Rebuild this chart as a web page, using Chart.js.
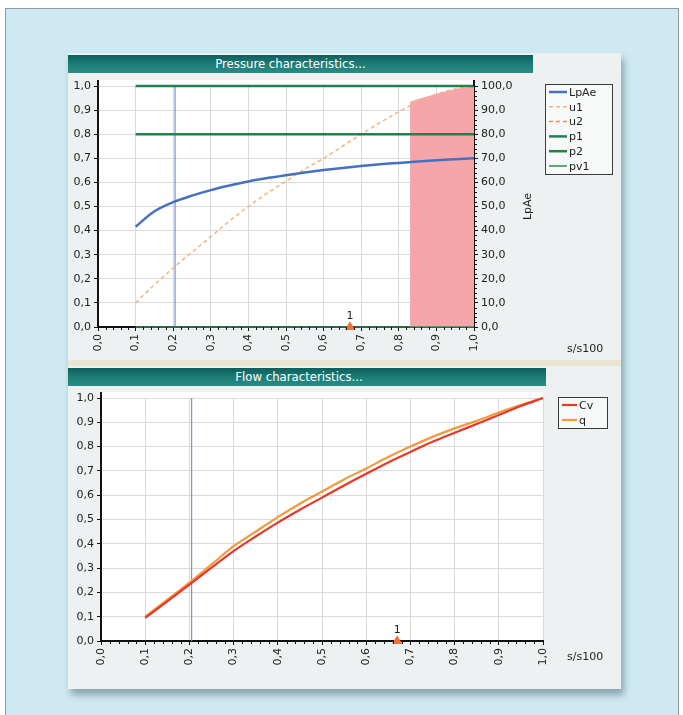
<!DOCTYPE html>
<html>
<head>
<meta charset="utf-8">
<title>Valve characteristics</title>
<script src="https://cdn.jsdelivr.net/npm/chart.js@4.4.1/dist/chart.umd.min.js"></script>
<style>
  html, body { margin: 0; padding: 0; }
  body { width: 683px; height: 715px; position: relative; overflow: hidden; background: #ffffff; font-family: "DejaVu Sans", sans-serif; }
  #frame { position: absolute; left: 5px; top: 8px; width: 674px; height: 720px; background: #cfe9f2; border: 1px solid #8c9ca2; box-sizing: border-box; }
  #panel { position: absolute; left: 68px; top: 53px; width: 553px; height: 636px; background: #eef1f1; box-shadow: 3px 6px 7px rgba(0,40,50,0.35); }
  .hdr { position: absolute; left: 68px; height: 18px; color: #ffffff; font: 13px "DejaVu Sans Condensed", "DejaVu Sans", sans-serif; line-height: 18px; text-align: center; background: linear-gradient(#0b5f5c, #1f7e78 55%, #2a8b84); box-sizing: border-box; }
  #hdrTop { top: 55px; width: 465px; padding-right: 20px; }
  #hdrBottom { top: 368px; width: 478px; padding-right: 16px; }
  #sep { position: absolute; left: 68px; top: 360px; width: 553px; height: 6px; background: #ebe5d3; }
  .cv { position: absolute; left: 68px; }
  #wrapTop { top: 73px; width: 551px; height: 287px; }
  #wrapBottom { top: 386px; width: 551px; height: 303px; }
</style>
</head>
<body>
<div id="frame"></div>
<div id="panel"></div>
<div id="sep"></div>
<div class="hdr" id="hdrTop">Pressure characteristics...</div>
<div class="hdr" id="hdrBottom">Flow characteristics...</div>
<div class="cv" id="wrapTop"><canvas id="pressure" width="551" height="287"></canvas></div>
<div class="cv" id="wrapBottom"><canvas id="flow" width="551" height="303"></canvas></div>
<script>
// relative travel s/s100
const travel = [0.10, 0.15, 0.20, 0.25, 0.30, 0.35, 0.40, 0.45, 0.50, 0.55,
                0.60, 0.65, 0.70, 0.75, 0.80, 0.85, 0.90, 0.95, 1.00];
// sound pressure level LpAe (right axis, dB)
const lpAe = [41.6, 48.0, 51.8, 54.5, 56.8, 58.7, 60.4, 61.8, 63.0, 64.1,
              65.1, 66.0, 66.8, 67.5, 68.1, 68.7, 69.2, 69.6, 70.0];
// pressure ratio u1
const u1 = [0.10, 0.175, 0.245, 0.31, 0.375, 0.44, 0.50, 0.555, 0.605, 0.655,
            0.70, 0.75, 0.80, 0.848, 0.893, 0.935, 0.966, 0.988, 1.00];
// u2 has no points in this operating case
const u2 = [];
// limit lines p1, p2, pv1
const limitTravel = [0.10, 1.00];
const p1 = [1.0, 1.0];
const p2 = [0.8, 0.8];
const pv1 = [0.0, 0.0];
// critical zone band
const zoneTravel = [0.83, 0.85, 0.90, 0.95, 1.00];
const zoneTop = [0.935, 0.945, 0.968, 0.988, 1.00];
// flow characteristics
const cv = [0.095, 0.163, 0.232, 0.302, 0.37, 0.43, 0.487, 0.54, 0.59, 0.64,
            0.688, 0.735, 0.778, 0.82, 0.857, 0.893, 0.93, 0.967, 1.00];
const q = [0.10, 0.17, 0.24, 0.315, 0.39, 0.45, 0.51, 0.565, 0.615, 0.665,
           0.71, 0.757, 0.80, 0.84, 0.875, 0.906, 0.94, 0.972, 1.00];
// operating point cursor and marker
const cursorTravel = 0.205;
const markerTravel = 0.67;
const markerLabel = "1";
// axis tick labels
const xTicks = [0.0, 0.1, 0.2, 0.3, 0.4, 0.5, 0.6, 0.7, 0.8, 0.9, 1.0];
const yTicks = [0.0, 0.1, 0.2, 0.3, 0.4, 0.5, 0.6, 0.7, 0.8, 0.9, 1.0];
const y1Ticks = [0, 10, 20, 30, 40, 50, 60, 70, 80, 90, 100];

const pts = (xs, ys) => xs.map((x, i) => ({ x: x, y: ys[i] }));
const comma = v => (Math.round(v * 10) / 10).toFixed(1).replace('.', ',');
const TICK_FONT = { family: "DejaVu Sans", size: 11 };
const TEXT_FONT = '11px "DejaVu Sans"';
const TICK_COLOR = '#222222';
const AXIS_COLOR = '#111111';
const GRID_COLOR = '#dadada';

// white plotting field, minor ticks, framed legend, marker label and axis captions
const decor = {
  id: 'decor',
  beforeDraw(chart) {
    const a = chart.chartArea, c = chart.ctx;
    c.save();
    c.fillStyle = '#ffffff';
    c.fillRect(a.left, a.top - 6, a.right - a.left, a.bottom - a.top + 6);
    c.restore();
  },
  afterDraw(chart, args, o) {
    const a = chart.chartArea, c = chart.ctx;
    c.save();
    c.strokeStyle = AXIS_COLOR; c.lineWidth = 2;
    c.beginPath(); c.moveTo(a.left, a.top - 6); c.lineTo(a.left, a.top); c.stroke();
    if (chart.scales.y1) { c.beginPath(); c.moveTo(a.right, a.top - 6); c.lineTo(a.right, a.top); c.stroke(); }
    // minor ticks
    c.lineWidth = 1;
    const xs = chart.scales.x;
    for (let k = 0; k <= 50; k++) {
      if (k % 5 === 0) continue;
      const px = Math.round(xs.getPixelForValue(k / 50)) + 0.5;
      c.beginPath(); c.moveTo(px, a.bottom); c.lineTo(px, a.bottom + 3); c.stroke();
    }
    if (chart.scales.y1) {
      const ys = chart.scales.y1;
      for (let k = 0; k <= 50; k++) {
        if (k % 5 === 0) continue;
        const py = Math.round(ys.getPixelForValue(k * 2)) + 0.5;
        c.beginPath(); c.moveTo(a.right, py); c.lineTo(a.right + 3, py); c.stroke();
      }
    }
    // marker label
    const mk = chart.data.datasets.find(d => d.isMarker);
    if (mk) {
      const px = xs.getPixelForValue(mk.data[0].x);
      const py = chart.scales.y.getPixelForValue(mk.data[0].y);
      c.fillStyle = '#222222';
      c.font = TEXT_FONT;
      c.textAlign = 'center'; c.textBaseline = 'bottom';
      c.fillText(mk.markerText, px, py - 5);
    }
    // axis captions
    c.fillStyle = '#222222';
    c.font = TEXT_FONT;
    c.textAlign = 'left'; c.textBaseline = 'middle';
    c.fillText('s/s100', o.capX, o.capY);
    if (o.rightTitle) {
      c.save();
      c.translate(o.rightTitle.x, (a.top + a.bottom) / 2);
      c.rotate(-Math.PI / 2);
      c.textAlign = 'center';
      c.fillText(o.rightTitle.text, 0, 0);
      c.restore();
    }
    // framed legend
    const items = chart.data.datasets.filter(d => d.inLegend);
    const L = o.legend;
    c.fillStyle = '#f7f8f8';
    c.fillRect(L.x, L.y, L.w, L.h);
    c.strokeStyle = '#3a3a3a'; c.lineWidth = 1;
    c.strokeRect(L.x + 0.5, L.y + 0.5, L.w - 1, L.h - 1);
    c.font = TEXT_FONT;
    items.forEach((d, i) => {
      const yy = L.y + L.pad + i * L.row;
      c.strokeStyle = d.borderColor;
      c.lineWidth = d.legendWidth || d.borderWidth;
      c.setLineDash(d.borderDash || []);
      c.beginPath(); c.moveTo(L.x + 4, yy); c.lineTo(L.x + 4 + L.line, yy); c.stroke();
      c.setLineDash([]);
      c.fillStyle = '#222222';
      c.textAlign = 'left'; c.textBaseline = 'middle';
      c.fillText(d.label, L.x + 6 + L.line, yy + 1);
    });
    c.restore();
  }
};

function xAxis(height) {
  return {
    type: 'linear', min: 0, max: 1,
    afterBuildTicks: s => { s.ticks = xTicks.map(v => ({ value: v })); },
    afterFit: s => { s.height = height; },
    ticks: { minRotation: 90, maxRotation: 90, autoSkip: false, callback: v => comma(v), font: TICK_FONT, color: TICK_COLOR, padding: 3 },
    grid: { color: GRID_COLOR, tickColor: AXIS_COLOR, tickLength: 4 },
    border: { display: true, color: AXIS_COLOR, width: 2 }
  };
}
function yAxis(width) {
  return {
    type: 'linear', min: 0, max: 1, position: 'left',
    afterBuildTicks: s => { s.ticks = yTicks.map(v => ({ value: v })); },
    afterFit: s => { s.width = width; },
    ticks: { callback: v => comma(v), font: TICK_FONT, color: TICK_COLOR, padding: 3 },
    grid: { color: GRID_COLOR, tickColor: AXIS_COLOR, tickLength: 4 },
    border: { display: true, color: AXIS_COLOR, width: 2 }
  };
}
const lineBase = { pointRadius: 0, pointHoverRadius: 0, fill: false, clip: 6, cubicInterpolationMode: 'monotone' };
const markerSet = () => ({ type: 'scatter', label: 'marker', isMarker: true, markerText: markerLabel, data: [{ x: markerTravel, y: 0 }], pointStyle: 'triangle', pointRadius: 5, pointHoverRadius: 5, backgroundColor: '#ee7432', borderColor: '#ee7432', borderWidth: 1, clip: false, order: -1 });

new Chart(document.getElementById('pressure'), {
  type: 'line',
  data: {
    datasets: [
      Object.assign({}, lineBase, { label: 'LpAe', data: pts(travel, lpAe), yAxisID: 'y1', borderColor: '#4670c2', borderWidth: 2.5, inLegend: true, order: 1 }),
      Object.assign({}, lineBase, { label: 'u1', data: pts(travel, u1), borderColor: '#f6b37e', borderWidth: 1.5, borderDash: [4, 3], inLegend: true, order: 3 }),
      Object.assign({}, lineBase, { label: 'u2', data: pts(travel, u2), borderColor: '#e2906e', borderWidth: 1.5, borderDash: [4, 3], inLegend: true, order: 3 }),
      Object.assign({}, lineBase, { label: 'p1', data: pts(limitTravel, p1), borderColor: '#23804e', borderWidth: 2.5, inLegend: true, order: 2 }),
      Object.assign({}, lineBase, { label: 'p2', data: pts(limitTravel, p2), borderColor: '#23804e', borderWidth: 2.5, inLegend: true, order: 2 }),
      Object.assign({}, lineBase, { label: 'pv1', data: pts(limitTravel, pv1), borderColor: '#2e8c57', borderWidth: 1.5, legendWidth: 1.5, inLegend: true, order: 0 }),
      Object.assign({}, lineBase, { label: 'zone', data: pts(zoneTravel, zoneTop), borderWidth: 0, borderColor: 'rgba(0,0,0,0)', backgroundColor: '#f4a6aa', fill: 'origin', order: 9, cubicInterpolationMode: 'default', tension: 0 }),
      Object.assign({}, lineBase, { label: 'cursor', data: [{ x: cursorTravel, y: 0 }, { x: cursorTravel, y: 1 }], borderColor: '#7d92cf', borderWidth: 1.2, order: 5 }),
      markerSet()
    ]
  },
  options: {
    responsive: false, animation: false, events: [],
    layout: { padding: { top: 13, left: 0, right: 73, bottom: 0 } },
    plugins: {
      legend: { display: false }, tooltip: { enabled: false },
      decor: {
        capX: 499, capY: 276,
        rightTitle: { x: 460, text: 'LpAe' },
        legend: { x: 477, y: 11, w: 68, h: 91, pad: 8, row: 14.8, line: 18 }
      }
    },
    scales: {
      x: xAxis(33),
      y: yAxis(30),
      y1: {
        type: 'linear', min: 0, max: 100, position: 'right',
        afterBuildTicks: s => { s.ticks = y1Ticks.map(v => ({ value: v })); },
        afterFit: s => { s.width = 72; },
        ticks: { callback: v => v.toFixed(1).replace('.', ','), font: TICK_FONT, color: TICK_COLOR, padding: 3 },
        grid: { display: true, drawOnChartArea: false, tickColor: AXIS_COLOR, tickLength: 4 },
        border: { display: true, color: AXIS_COLOR, width: 2 }
      }
    }
  },
  plugins: [decor]
});

new Chart(document.getElementById('flow'), {
  type: 'line',
  data: {
    datasets: [
      Object.assign({}, lineBase, { label: 'Cv', data: pts(travel, cv), borderColor: '#e5372c', borderWidth: 2.2, inLegend: true, order: 1 }),
      Object.assign({}, lineBase, { label: 'q', data: pts(travel, q), borderColor: '#f39a3c', borderWidth: 2.2, inLegend: true, order: 2 }),
      Object.assign({}, lineBase, { label: 'cursor', data: [{ x: cursorTravel, y: 0 }, { x: cursorTravel, y: 1 }], borderColor: '#7d92cf', borderWidth: 1.2, order: 5 }),
      markerSet()
    ]
  },
  options: {
    responsive: false, animation: false, events: [],
    layout: { padding: { top: 12, left: 0, right: 76, bottom: 15 } },
    plugins: {
      legend: { display: false }, tooltip: { enabled: false },
      decor: {
        capX: 499, capY: 271,
        legend: { x: 490, y: 11, w: 50, h: 32, pad: 8, row: 15, line: 15 }
      }
    },
    scales: { x: xAxis(33), y: yAxis(33) }
  },
  plugins: [decor]
});
</script>
</body>
</html>
